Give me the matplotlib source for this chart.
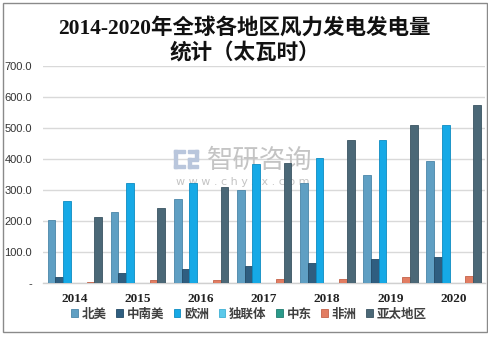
import matplotlib
matplotlib.use("Agg")
import matplotlib.pyplot as plt
import numpy as np
from matplotlib.patches import Rectangle

years = ["2014", "2015", "2016", "2017", "2018", "2019", "2020"]
series_names = ["北美", "中南美", "欧洲", "独联体", "中东", "非洲", "亚太地区"]
north_america = [203, 229, 271, 300, 322, 347, 395]
south_central_america = [19, 32, 46, 55, 64, 76, 83]
europe = [266, 321, 323, 384, 402, 460, 509]
cis = [1.5, 1.5, 1.5, 1.5, 1.5, 1.5, 1.5]
middle_east = [1.5, 1.5, 1.5, 1.5, 1.5, 1.5, 1.5]
africa = [3, 9, 10, 12, 14, 18, 22]
asia_pacific = [213, 242, 310, 388, 460, 509, 575]
yticks = [0, 100, 200, 300, 400, 500, 600, 700]
ytick_labels = ["-", "100.0", "200.0", "300.0", "400.0", "500.0", "600.0", "700.0"]

series = [north_america, south_central_america, europe, cis, middle_east, africa, asia_pacific]
colors = ["#5f9fc3", "#2f5e80", "#16a9e6", "#5cc9ea", "#2a9a8a", "#e27d62", "#4b6877"]
edges = ["#4a86a8", "#234a66", "#0d8cc2", "#3fb0d4", "#1f7d70", "#c4634a", "#3a5462"]

plt.rcParams['font.family'] = ['Liberation Serif', 'Noto Sans CJK SC']

fig = plt.figure(figsize=(4.89, 3.38), dpi=100)
ax = fig.add_axes([43.3/489, 55/338, (485-43.3)/489, 217/338])
ax.patch.set_alpha(0)

x = np.arange(len(years))
w = 0.1236
for j, (vals, c, ec) in enumerate(zip(series, colors, edges)):
    ax.bar(x + (j - 3) * w, vals, width=w, color=c, edgecolor=ec, linewidth=0.6,
           label=series_names[j], zorder=3)

ax.set_xlim(-0.5, 6.5)
ax.set_ylim(0, 700)
ax.set_yticks(yticks)
ax.set_yticklabels(ytick_labels, family=['Liberation Sans'], fontsize=8, color="#333333")
ax.set_xticks(x)
ax.set_xticklabels(years, fontsize=9.5, fontweight='bold', color="#222222",
                   family=['Liberation Serif'])
ax.tick_params(axis='y', length=0, pad=8)
ax.tick_params(axis='x', length=0, pad=7)
ax.grid(axis='y', color="#d9d9d9", linewidth=1, zorder=0)
for s in ["top", "right", "left"]:
    ax.spines[s].set_visible(False)
ax.spines["bottom"].set_color("#d0d0d0")
ax.spines["bottom"].set_linewidth(1)

fig.text(0.5, 1 - 28/338, "2014-2020年全球各地区风力发电发电量", ha='center', va='center',
         fontsize=15.5, fontweight='bold', color="#111111")
fig.text(0.5, 1 - 53/338, "统计（太瓦时）", ha='center', va='center',
         fontsize=15.5, fontweight='bold', color="#111111")

# watermark (behind bars)
ax.text(207/489, 1 - 160/338, "智研咨询", ha='left', va='center', fontsize=19,
        color="#c4c4c4", family=['Noto Sans CJK SC'], transform=fig.transFigure, zorder=2)
ax.text(243/489, 1 - 182/338, "w w w . c h y x x . c o m", ha='center', va='center',
        fontsize=8, color="#c4c4c4", family=['DejaVu Sans'], transform=fig.transFigure, zorder=2)
logo_c = "#b9c6dc"
for (lx, ly, lw_, lh) in [(174, 150, 11, 3), (174, 150, 3, 18), (174, 165, 11, 3),
                          (188, 150, 10, 3), (195, 150, 3, 10), (188, 158, 10, 3),
                          (188, 158, 3, 10), (188, 165, 10, 3)]:
    ax.add_patch(Rectangle((lx/489, 1 - (ly + lh)/338), lw_/489, lh/338,
                           transform=fig.transFigure, color=logo_c, zorder=2, clip_on=False))

leg = ax.legend(loc='center', bbox_to_anchor=(0.509, 1 - 314/338), bbox_transform=fig.transFigure,
                ncol=7, frameon=False, handlelength=0.55, handleheight=0.55,
                handletextpad=0.3, columnspacing=0.75,
                prop={'family': ['Noto Sans CJK SC'], 'weight': 'bold', 'size': 9})
for t in leg.get_texts():
    t.set_color("#404040")

fig.patches.append(Rectangle((3/489, 6/338), 484/489, 329/338, transform=fig.transFigure,
                             fill=False, edgecolor="#8a8a8a", linewidth=1))

fig.savefig("out.png", dpi=100)
